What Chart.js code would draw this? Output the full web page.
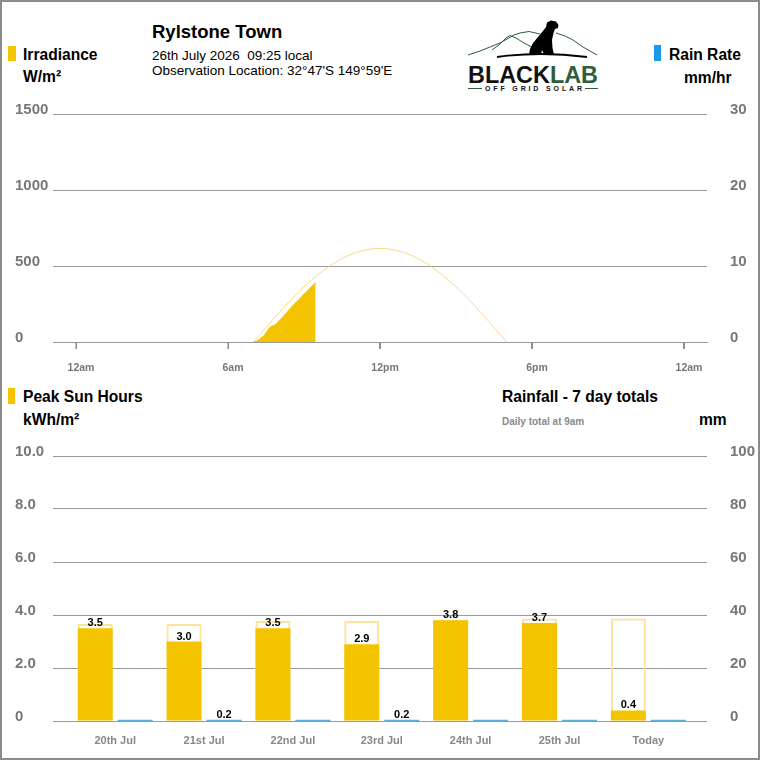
<!DOCTYPE html>
<html>
<head>
<meta charset="utf-8">
<script src="https://cdn.jsdelivr.net/npm/chart.js@4"></script>
<style>
  body { margin: 0; background: #fff; font-family: "Liberation Sans", Arial, sans-serif; }
  #frame { position: absolute; left: 0; top: 0; width: 756px; height: 756px; border: 2px solid #8c8c8c; }
  .t { position: absolute; line-height: 1; white-space: pre; color: #000; }
  .b { font-weight: bold; font-size: 15.6px; }
  .sq { position: absolute; }
  canvas { position: absolute; left: 0; }
</style>
</head>
<body>
<div id="frame"></div>

<div class="sq" style="left:8px;top:46px;width:8px;height:15px;background:#f5c400"></div>
<div class="t b" style="left:23px;top:47px">Irradiance</div>
<div class="t b" style="left:23px;top:69px">W/m²</div>

<div class="t" style="left:152px;top:23px;font-weight:bold;font-size:18.5px">Rylstone Town</div>
<div class="t" style="left:152px;top:49px;font-size:13.5px">26th July 2026  09:25 local</div>
<div class="t" style="left:152px;top:64px;font-size:13.5px">Observation Location: 32°47'S 149°59'E</div>

<div class="sq" style="left:654px;top:45px;width:7px;height:16px;background:#1a9be8"></div>
<div class="t b" style="left:669px;top:47px">Rain Rate</div>
<div class="t b" style="left:684px;top:70px">mm/hr</div>

<svg style="position:absolute;left:460px;top:15px" width="150" height="80" viewBox="460 15 150 80">
  <polyline points="468,55 480,51 490,47 500,43 507,39 514,35 520,33 529,31.5 540,34" fill="none" stroke="#2e5e3e" stroke-width="1"/>
  <polyline points="492,50 500,44 506,38 510,35.5 516,38 524,43 532,47" fill="none" stroke="#2e5e3e" stroke-width="1"/>
  <polyline points="556,33 565,36 573,40 583,47 597,55" fill="none" stroke="#2e5e3e" stroke-width="1"/>
  <path d="M497,57 Q540,51 587,57" fill="none" stroke="#000" stroke-width="1.8"/>
  <path d="M558.5,25 L556,21.5 L551,20.5 L547,22.5 L546,27 L543,31 L538,37 L533,43 L530,49 L529,54.5 L541,54.5 L542,50 L544,54.5 L554,54.5 L552.5,48 L552,40 L553.5,33 L555,29 L558,28 Z" fill="#000"/>
  <text x="468" y="83" font-family="Liberation Sans, Arial" font-weight="bold" font-size="23" textLength="130" lengthAdjust="spacingAndGlyphs"><tspan fill="#111">BLACK</tspan><tspan fill="#2e5e3e">LAB</tspan></text>
  <line x1="468" y1="88.5" x2="482" y2="88.5" stroke="#2e5e3e" stroke-width="1"/>
  <line x1="585" y1="88.5" x2="598" y2="88.5" stroke="#2e5e3e" stroke-width="1"/>
  <text x="485" y="91" font-family="Liberation Sans, Arial" font-weight="bold" font-size="7" fill="#111" textLength="97" lengthAdjust="spacing">OFF GRID SOLAR</text>
</svg>

<div class="sq" style="left:8px;top:388px;width:7px;height:16px;background:#f5c400"></div>
<div class="t b" style="left:23px;top:389px">Peak Sun Hours</div>
<div class="t b" style="left:23px;top:412px">kWh/m²</div>
<div class="t b" style="left:502px;top:389px">Rainfall - 7 day totals</div>
<div class="t" style="left:502px;top:417px;font-size:10px;font-weight:bold;color:#8a8a8a">Daily total at 9am</div>
<div class="t b" style="left:699px;top:412px">mm</div>

<canvas id="top" width="760" height="290" style="top:95px"></canvas>
<canvas id="bottom" width="760" height="320" style="top:440px"></canvas>

<script>
// irradiance, hour of day -> W/m2
const clearSkyHours = [7.0, 7.5, 8.0, 8.5, 9.0, 9.5, 10.0, 10.5, 11.0, 11.5, 12.0, 12.5, 13.0, 13.5, 14.0, 14.5, 15.0, 15.5, 16.0, 16.5, 17.0];
const clearSkyValues = [0, 96, 190, 280, 362, 436, 498, 549, 586, 608, 616, 608, 586, 549, 498, 436, 362, 280, 190, 96, 0];
const actualHours = [7.0, 7.14, 7.26, 7.44, 7.6, 7.66, 7.74, 7.85, 7.95, 8.18, 8.38, 8.58, 8.78, 8.97, 9.2, 9.44, 9.46];
const actualValues = [0, 6, 20, 45, 85, 97, 105, 112, 128, 167, 205, 243, 276, 309, 348, 388, 390];
const hourTicks = [0, 6, 12, 18, 24];
const hourLabels = ["12am", "6am", "12pm", "6pm", "12am"];

// 7 day totals
const days = ["20th Jul", "21st Jul", "22nd Jul", "23rd Jul", "24th Jul", "25th Jul", "Today"];
const sunHours = [3.5, 3.0, 3.5, 2.9, 3.8, 3.7, 0.4];
const sunPotential = [3.66, 3.66, 3.77, 3.77, 3.8, 3.87, 3.87];
const rainfall = [0, 0.2, 0, 0.2, 0, 0, 0];

const GOLD = "#f5c400";
const GRID = "#999";
const TICK = "#777";
const font = "'Liberation Sans', Arial, sans-serif";

function pts(xs, ys) {
  return xs.map((x, i) => ({ x: x, y: ys[i] }));
}

// fixed axis sizes so the plot areas line up with the page
function fixWidth(w) {
  return (s) => { s.width = w; s.paddingTop = 0; s.paddingBottom = 0; };
}
function fixHeight(h) {
  return (s) => { s.height = h; s.paddingLeft = 0; s.paddingRight = 0; };
}

function yTicks(extra) {
  return Object.assign({
    labelOffset: -4,
    color: TICK,
    font: { family: font, size: 15, weight: "bold" },
  }, extra);
}

// little tick marks under the hour axis
const hourMarks = {
  id: "hourMarks",
  afterDraw(chart) {
    const ctx = chart.ctx;
    const x = chart.scales.x;
    const y0 = chart.chartArea.bottom;
    ctx.save();
    ctx.strokeStyle = "#8a8a8a";
    ctx.lineWidth = 1.5;
    ctx.beginPath();
    hourTicks.forEach((v) => {
      const px = Math.round(x.getPixelForValue(v)) + 0.25;
      ctx.moveTo(px, y0);
      ctx.lineTo(px, y0 + 7);
    });
    ctx.stroke();
    ctx.restore();
  },
};

new Chart(document.getElementById("top"), {
  type: "line",
  data: {
    datasets: [
      {
        data: pts(actualHours, actualValues),
        borderColor: GOLD,
        borderWidth: 1,
        backgroundColor: GOLD,
        fill: "origin",
        pointRadius: 0,
        tension: 0,
      },
      {
        data: pts(clearSkyHours, clearSkyValues),
        borderColor: "#fdd889",
        borderWidth: 1,
        fill: false,
        pointRadius: 0,
        cubicInterpolationMode: "monotone",
      },
    ],
  },
  options: {
    responsive: false,
    animation: false,
    layout: { padding: { left: 15, top: 19, right: 0, bottom: 0 } },
    plugins: { legend: { display: false }, tooltip: { enabled: false } },
    scales: {
      x: {
        type: "linear",
        min: -0.908,
        max: 24.908,
        afterBuildTicks: (s) => { s.ticks = hourTicks.map((v) => ({ value: v })); },
        afterFit: fixHeight(43),
        grid: { drawOnChartArea: false, tickLength: 7, color: GRID },
        border: { color: GRID },
        ticks: {
          padding: 13,
          labelOffset: 5,
          color: TICK,
          font: { family: font, size: 10.5, weight: "bold" },
          callback: (v) => hourLabels[hourTicks.indexOf(v)],
        },
      },
      y: {
        min: 0,
        max: 1500,
        afterFit: fixWidth(38),
        grid: { color: GRID, drawTicks: false },
        border: { display: false },
        ticks: yTicks({ stepSize: 500, crossAlign: "far", callback: (v) => String(v) }),
      },
      y1: {
        position: "right",
        min: 0,
        max: 30,
        afterFit: fixWidth(53),
        grid: { display: false },
        border: { display: false },
        ticks: yTicks({ stepSize: 10, padding: 15 }),
      },
    },
  },
  plugins: [hourMarks],
});

const valueLabels = {
  id: "valueLabels",
  afterDatasetsDraw(chart) {
    const ctx = chart.ctx;
    ctx.save();
    ctx.font = "bold 11px " + font;
    ctx.fillStyle = "#000";
    ctx.textAlign = "center";
    ctx.textBaseline = "alphabetic";
    [0, 2].forEach((di) => {
      const meta = chart.getDatasetMeta(di);
      const vals = chart.data.datasets[di].data;
      meta.data.forEach((bar, i) => {
        const v = vals[i].y;
        if (di === 2 && v <= 0) return;
        ctx.fillText(v.toFixed(1), bar.x, bar.y - 2);
      });
    });
    ctx.restore();
  },
};

new Chart(document.getElementById("bottom"), {
  type: "bar",
  data: {
    datasets: [
      {
        data: pts(days.map((d, i) => i), sunHours),
        backgroundColor: GOLD,
        stack: "sun",
        yAxisID: "y",
      },
      {
        data: pts(days.map((d, i) => i), sunPotential),
        backgroundColor: "rgba(255,255,255,0)",
        borderColor: "#fde39a",
        borderWidth: 2,
        stack: "sun",
        yAxisID: "y",
      },
      {
        data: pts(days.map((d, i) => i), rainfall),
        backgroundColor: "#5aaee0",
        minBarLength: 1.2,
        stack: "rain",
        yAxisID: "y1",
      },
    ],
  },
  options: {
    responsive: false,
    animation: false,
    categoryPercentage: 0.9,
    barPercentage: 0.875,
    layout: { padding: { left: 15, top: 16, right: 0, bottom: 0 } },
    plugins: { legend: { display: false }, tooltip: { enabled: false } },
    scales: {
      x: {
        type: "linear",
        offset: false,
        min: -0.7,
        max: 6.66,
        afterBuildTicks: (s) => { s.ticks = days.map((d, i) => ({ value: i })); },
        afterFit: fixHeight(39),
        grid: { display: false, drawTicks: false },
        border: { display: false },
        ticks: {
          padding: 13,
          color: "#888",
          font: { family: font, size: 11, weight: "bold" },
          callback: (v) => days[v],
        },
      },
      y: {
        min: 0,
        max: 10,
        stacked: false,
        afterFit: fixWidth(38),
        grid: { color: GRID, drawTicks: false },
        border: { display: false },
        ticks: yTicks({
          stepSize: 2,
          crossAlign: "far",
          callback: (v) => (v === 0 ? "0" : v.toFixed(1)),
        }),
      },
      y1: {
        position: "right",
        min: 0,
        max: 100,
        stacked: false,
        afterFit: fixWidth(53),
        grid: { display: false },
        border: { display: false },
        ticks: yTicks({ stepSize: 20, padding: 15 }),
      },
    },
  },
  plugins: [valueLabels],
});
</script>
</body>
</html>
